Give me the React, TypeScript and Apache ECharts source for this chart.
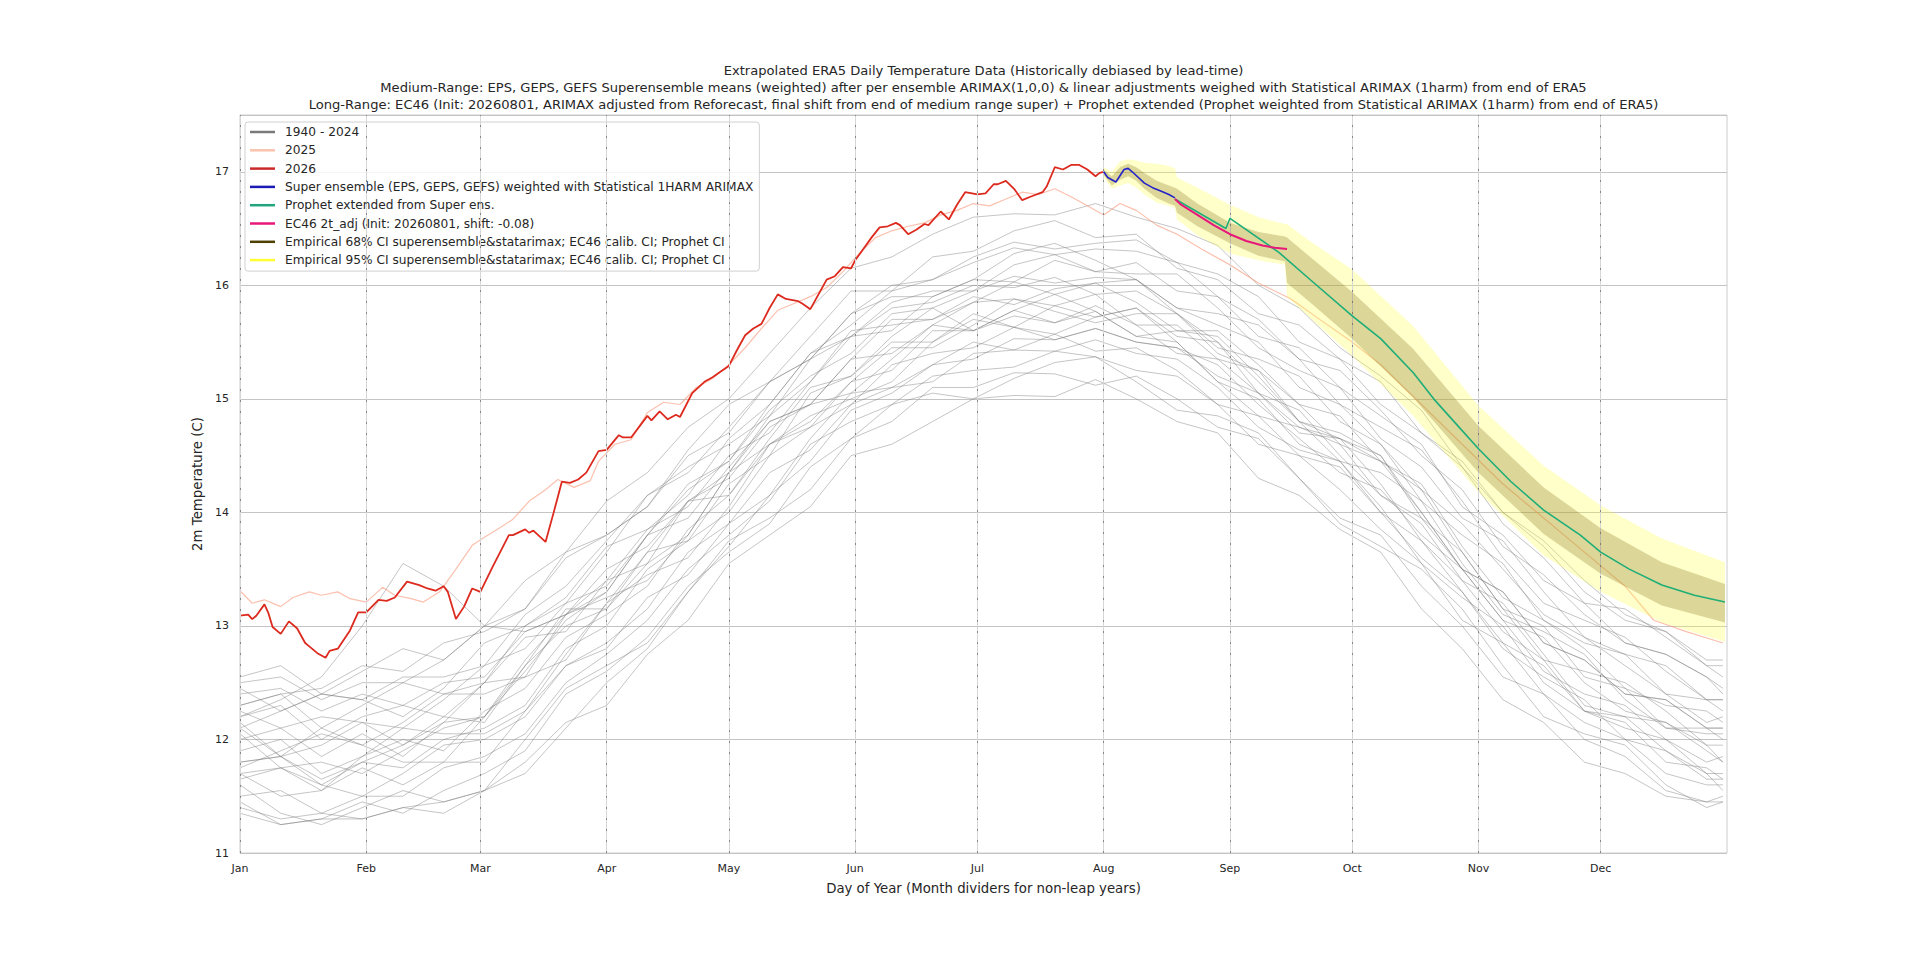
import React, { useEffect, useRef } from "react";
import * as echarts from "echarts";

const FONT = "'DejaVu Sans', 'Noto Sans', sans-serif";
const TEXT_COLOR = "#262626";

const TITLE_LINES = [
  "Extrapolated ERA5 Daily Temperature Data (Historically debiased by lead-time)",
  "Medium-Range: EPS, GEPS, GEFS Superensemble means (weighted) after per ensemble ARIMAX(1,0,0) & linear adjustments weighed with Statistical ARIMAX (1harm) from end of ERA5",
  "Long-Range: EC46 (Init: 20260801, ARIMAX adjusted from Reforecast, final shift from end of medium range super) + Prophet extended (Prophet weighted from Statistical ARIMAX (1harm) from end of ERA5)",
];

const MONTH_DAYS = [0, 31, 59, 90, 120, 151, 181, 212, 243, 273, 304, 334];
const MONTH_LABELS = ["Jan", "Feb", "Mar", "Apr", "May", "Jun", "Jul", "Aug", "Sep", "Oct", "Nov", "Dec"];

const Y_TICKS = [11, 12, 13, 14, 15, 16, 17];

// Historical years 1940-2024 (representative traces read from the bundle)
const HIST_DAYS = [0, 10, 20, 30, 40, 50, 60, 70, 80, 90, 100, 110, 120, 130, 140, 150, 160, 170, 180, 190, 200, 210, 220, 230, 240, 250, 260, 270, 280, 290, 300, 310, 320, 330, 340, 350, 360, 364];
const HIST_A = [12.55, 12.65, 12.40, 12.60, 12.80, 12.70, 13.00, 13.15, 13.65, 13.80, 14.05, 14.55, 14.95, 15.15, 15.55, 15.95, 15.95, 16.25, 16.30, 16.48, 16.57, 16.42, 16.45, 16.15, 16.05, 15.75, 15.65, 15.35, 14.95, 14.70, 14.40, 13.90, 13.60, 13.20, 13.15, 12.90, 12.65, 12.65];
const HIST_B = [12.30, 12.40, 12.10, 12.30, 12.50, 12.40, 12.50, 13.00, 13.25, 13.70, 13.85, 14.15, 14.65, 14.95, 15.40, 15.55, 15.85, 15.95, 15.95, 16.18, 16.27, 16.12, 16.10, 16.10, 15.80, 15.45, 15.25, 15.10, 14.65, 14.40, 13.95, 13.75, 13.30, 12.90, 12.75, 12.65, 12.35, 12.35];
const HIST_C = [12.10, 11.85, 12.10, 11.95, 12.15, 12.40, 12.40, 12.55, 13.10, 13.30, 13.80, 13.95, 14.40, 14.80, 14.95, 15.35, 15.70, 15.70, 15.90, 15.83, 15.97, 16.02, 15.85, 15.60, 15.60, 15.30, 14.95, 14.85, 14.45, 14.25, 13.70, 13.25, 13.05, 12.80, 12.45, 12.30, 12.25, 12.15];
const HIST_D = [11.90, 12.00, 11.70, 11.85, 12.00, 11.90, 12.25, 12.45, 12.90, 13.10, 13.35, 13.85, 14.15, 14.60, 14.80, 15.15, 15.25, 15.60, 15.60, 15.73, 15.67, 15.82, 15.65, 15.40, 15.35, 15.05, 14.90, 14.50, 14.15, 13.95, 13.50, 13.05, 12.90, 12.50, 12.25, 12.15, 11.95, 11.80];
const HIST_E = [11.70, 11.50, 11.55, 11.75, 11.60, 11.80, 11.80, 12.25, 12.65, 12.80, 13.25, 13.45, 13.90, 14.35, 14.55, 14.95, 15.10, 15.15, 15.40, 15.43, 15.57, 15.42, 15.45, 15.25, 14.95, 14.85, 14.50, 14.40, 14.00, 13.60, 13.30, 12.80, 12.55, 12.35, 12.00, 11.90, 11.70, 11.55];
const HIST_F = [11.45, 11.25, 11.30, 11.45, 11.35, 11.55, 11.70, 11.90, 12.40, 12.60, 12.90, 13.35, 13.65, 13.90, 14.40, 14.65, 14.80, 15.10, 15.10, 15.23, 15.22, 15.12, 15.20, 15.00, 14.75, 14.65, 14.30, 13.95, 13.80, 13.35, 13.00, 12.55, 12.40, 12.00, 11.85, 11.55, 11.45, 11.50];
const HIST_G = [11.70, 11.75, 11.80, 11.70, 11.90, 12.10, 12.20, 12.65, 13.00, 13.15, 13.65, 14.10, 14.35, 14.85, 15.15, 15.55, 15.60, 15.90, 16.05, 16.03, 16.22, 16.12, 16.20, 15.95, 15.90, 15.55, 15.45, 15.10, 14.85, 14.60, 14.05, 13.80, 13.40, 13.20, 12.85, 12.75, 12.55, 12.40];
const HIST_H = [12.40, 12.45, 12.25, 12.40, 12.30, 12.50, 12.55, 12.95, 13.10, 13.50, 13.70, 14.10, 14.30, 14.75, 14.95, 15.35, 15.40, 15.65, 15.60, 15.78, 15.67, 15.77, 15.55, 15.50, 15.15, 15.00, 14.60, 14.45, 14.00, 13.75, 13.30, 12.85, 12.65, 12.25, 12.10, 12.00, 11.70, 11.70];
const HIST_I = [12.20, 12.35, 12.55, 13.00, 13.55, 13.35, 13.00, 12.95, 13.10, 13.40, 13.55, 13.80, 14.35, 14.60, 14.75, 15.15, 15.45, 15.45, 15.65, 15.88, 15.82, 15.72, 15.80, 15.55, 15.50, 15.15, 14.80, 14.70, 14.50, 14.00, 13.50, 13.30, 12.85, 12.70, 12.40, 12.35, 12.10, 12.10];
const HIST_J = [11.35, 11.25, 11.30, 11.30, 11.40, 11.45, 11.55, 11.80, 12.15, 12.30, 12.75, 13.05, 13.55, 13.80, 14.05, 14.50, 14.60, 14.80, 15.00, 15.03, 15.02, 15.17, 15.00, 14.80, 14.70, 14.30, 14.15, 13.85, 13.65, 13.15, 12.80, 12.35, 12.15, 11.80, 11.70, 11.50, 11.45, 11.45];
const HIST_K = [12.50, 12.55, 12.35, 12.50, 12.50, 12.70, 13.00, 13.40, 13.65, 14.10, 14.35, 14.75, 15.00, 15.40, 15.80, 16.15, 16.25, 16.45, 16.60, 16.63, 16.62, 16.72, 16.60, 16.50, 16.35, 16.00, 15.80, 15.45, 15.20, 14.90, 14.40, 14.00, 13.75, 13.40, 13.10, 12.95, 12.70, 12.70];
const HIST_L = [12.00, 12.10, 11.85, 12.05, 11.85, 12.15, 12.50, 12.55, 12.70, 13.20, 13.65, 13.75, 14.25, 14.50, 15.05, 15.20, 15.50, 15.50, 15.75, 15.63, 15.82, 15.92, 15.65, 15.65, 15.35, 15.25, 14.80, 14.65, 14.50, 13.95, 13.65, 13.15, 13.00, 12.55, 12.45, 12.10, 12.05, 12.05];
const HIST_M = [11.80, 11.85, 11.60, 11.80, 11.75, 12.00, 12.10, 12.30, 12.80, 13.00, 13.50, 13.75, 14.00, 14.50, 14.75, 14.95, 15.30, 15.40, 15.45, 15.63, 15.52, 15.62, 15.50, 15.45, 15.30, 14.95, 14.65, 14.35, 14.20, 13.80, 13.50, 13.05, 12.60, 12.40, 12.30, 12.00, 11.80, 11.85];
const HIST_N = [12.45, 12.25, 12.40, 12.35, 12.55, 12.55, 12.65, 13.10, 13.35, 13.75, 14.15, 14.35, 14.75, 15.15, 15.35, 15.75, 16.00, 16.05, 16.20, 16.33, 16.27, 16.32, 16.30, 16.20, 15.90, 15.70, 15.35, 15.25, 14.90, 14.50, 14.20, 13.70, 13.45, 13.10, 12.85, 12.75, 12.55, 12.45];
const HIST_O = [11.50, 11.55, 11.35, 11.50, 11.50, 11.75, 11.85, 12.05, 12.50, 12.75, 13.05, 13.50, 13.80, 14.10, 14.60, 14.80, 14.95, 15.20, 15.25, 15.28, 15.42, 15.37, 15.25, 15.20, 14.95, 14.60, 14.50, 14.20, 13.85, 13.55, 13.05, 12.85, 12.40, 12.15, 12.00, 11.70, 11.60, 11.60];
const HIST_P = [12.25, 12.10, 12.20, 12.15, 12.10, 12.35, 12.65, 12.80, 13.20, 13.35, 13.80, 14.25, 14.45, 14.90, 15.20, 15.40, 15.75, 15.80, 15.95, 16.08, 16.02, 16.07, 16.05, 15.80, 15.65, 15.50, 15.10, 14.95, 14.60, 14.20, 13.90, 13.50, 13.10, 12.90, 12.65, 12.40, 12.35, 12.25];
const HIST_Q = [11.75, 11.90, 12.05, 11.95, 11.80, 11.80, 12.20, 12.70, 13.10, 13.25, 13.40, 13.80, 14.35, 14.80, 14.95, 15.05, 15.35, 15.65, 15.85, 15.88, 15.77, 15.67, 15.75, 15.75, 15.50, 15.05, 14.70, 14.65, 14.45, 14.20, 13.65, 13.15, 12.70, 12.60, 12.50, 12.25, 11.95, 11.95];
const HIST_R = [12.10, 12.25, 12.40, 12.35, 12.20, 12.45, 12.85, 13.00, 13.20, 13.65, 14.15, 14.40, 14.60, 14.85, 15.35, 15.75, 15.90, 15.90, 16.05, 16.28, 16.37, 16.22, 16.05, 15.80, 15.75, 15.65, 15.35, 14.95, 14.75, 14.55, 14.10, 13.60, 13.20, 13.05, 12.90, 12.60, 12.35, 12.35];
const HIST_S = [11.60, 11.35, 11.25, 11.40, 11.55, 11.45, 11.55, 12.00, 12.45, 12.65, 12.85, 13.30, 13.75, 13.95, 14.20, 14.65, 14.95, 15.05, 15.00, 15.18, 15.32, 15.37, 15.15, 14.90, 14.85, 14.70, 14.30, 13.90, 13.70, 13.50, 13.15, 12.65, 12.20, 12.05, 11.95, 11.60, 11.40, 11.45];
const HIST_T = [12.05, 11.75, 11.55, 11.85, 12.10, 12.05, 12.05, 12.25, 12.75, 13.20, 13.45, 13.60, 14.05, 14.60, 14.85, 15.00, 15.15, 15.50, 15.70, 15.63, 15.57, 15.72, 15.80, 15.50, 15.15, 14.85, 14.75, 14.65, 14.25, 13.75, 13.40, 13.20, 12.75, 12.30, 12.20, 12.15, 11.90, 11.80];
const HIST_U = [11.80, 11.85, 11.65, 11.80, 11.95, 12.15, 12.20, 12.60, 13.05, 13.30, 13.80, 14.20, 14.45, 14.95, 15.40, 15.65, 15.95, 16.05, 16.25, 16.38, 16.32, 16.37, 16.40, 16.20, 16.10, 15.90, 15.50, 15.35, 15.15, 14.70, 14.45, 14.00, 13.70, 13.30, 13.05, 12.95, 12.65, 12.55];
const HIST_V = [11.65, 11.75, 11.60, 11.50, 11.70, 11.95, 12.00, 12.20, 12.65, 12.85, 13.15, 13.65, 13.90, 14.15, 14.65, 15.05, 15.10, 15.30, 15.50, 15.43, 15.42, 15.52, 15.40, 15.35, 15.10, 14.75, 14.55, 14.45, 14.05, 13.55, 13.25, 13.00, 12.50, 12.25, 12.20, 11.90, 11.65, 11.65];
const HIST_W = [12.20, 12.30, 12.00, 12.20, 12.30, 12.20, 12.50, 12.90, 12.95, 13.40, 13.85, 14.05, 14.50, 14.70, 15.15, 15.60, 15.65, 15.70, 15.85, 16.03, 15.92, 16.02, 16.05, 15.75, 15.45, 15.35, 15.20, 14.80, 14.60, 14.10, 13.80, 13.55, 13.05, 12.85, 12.75, 12.40, 12.15, 12.20];
const HIST_X = [11.40, 11.30, 11.35, 11.30, 11.40, 11.35, 11.55, 11.70, 12.10, 12.50, 12.80, 13.30, 13.70, 14.15, 14.45, 14.90, 15.05, 15.30, 15.35, 15.53, 15.52, 15.62, 15.50, 15.45, 15.20, 15.05, 14.75, 14.60, 14.15, 13.90, 13.40, 12.95, 12.70, 12.25, 12.15, 11.80, 11.75, 11.65];
const HIST_Y = [12.30, 12.40, 12.45, 12.65, 12.60, 12.85, 12.95, 13.15, 13.60, 13.80, 14.05, 14.50, 14.70, 15.15, 15.35, 15.55, 15.80, 15.85, 16.00, 15.98, 16.07, 15.92, 15.95, 15.75, 15.40, 15.25, 14.95, 14.60, 14.45, 14.00, 13.50, 13.30, 12.85, 12.70, 12.40, 12.35, 12.10, 12.00];
const HIST_Z = [12.15, 11.85, 11.95, 12.15, 11.95, 12.20, 12.15, 12.65, 13.15, 13.15, 13.55, 14.10, 14.15, 14.65, 15.10, 15.20, 15.55, 15.80, 15.60, 15.78, 15.92, 15.77, 15.55, 15.60, 15.55, 15.20, 14.80, 14.45, 14.35, 14.10, 13.55, 13.10, 12.95, 12.75, 12.35, 12.10, 12.10, 12.10];
const HIST_LINES = [HIST_A, HIST_B, HIST_C, HIST_D, HIST_E, HIST_F, HIST_G, HIST_H, HIST_I, HIST_J, HIST_K, HIST_L, HIST_M, HIST_N, HIST_O, HIST_P, HIST_Q, HIST_R, HIST_S, HIST_T, HIST_U, HIST_V, HIST_W, HIST_X, HIST_Y, HIST_Z];

// 2025
const Y2025_DAYS = [0, 3, 6, 10, 13, 17, 20, 24, 27, 31, 35, 38, 42, 45, 49, 53, 57, 60, 64, 67, 71, 75, 78, 82, 86, 88, 92, 96, 100, 104, 108, 112, 116, 120, 124, 128, 132, 136, 140, 144, 148, 152, 156, 160, 164, 168, 172, 176, 180, 184, 188, 192, 196, 200, 204, 208, 212, 216, 220, 225, 230, 236, 243, 250, 258, 265, 273, 280, 290, 300, 310, 320, 330, 340, 347, 355, 364];
const Y2025_VALUES = [13.31, 13.20, 13.23, 13.17, 13.25, 13.30, 13.27, 13.30, 13.24, 13.21, 13.34, 13.27, 13.24, 13.21, 13.30, 13.50, 13.71, 13.78, 13.87, 13.94, 14.10, 14.20, 14.29, 14.22, 14.28, 14.45, 14.60, 14.64, 14.88, 14.97, 14.95, 15.10, 15.18, 15.30, 15.45, 15.62, 15.78, 15.84, 15.90, 15.98, 16.12, 16.28, 16.42, 16.48, 16.52, 16.55, 16.62, 16.66, 16.72, 16.70, 16.76, 16.82, 16.80, 16.85, 16.78, 16.70, 16.62, 16.72, 16.66, 16.53, 16.45, 16.32, 16.18, 16.02, 15.88, 15.70, 15.50, 15.30, 14.95, 14.60, 14.25, 13.95, 13.65, 13.35, 13.05, 12.95, 12.85];

// 2026 (ERA5 to end of July)
const Y2026_DAYS = [0, 2, 3, 4, 6, 7, 8, 10, 12, 14, 16, 17, 19, 21, 22, 24, 27, 29, 31, 34, 36, 38, 41, 44, 46, 48, 50, 51, 53, 55, 57, 59, 62, 66, 67, 70, 71, 72, 75, 77, 79, 81, 83, 85, 88, 90, 93, 94, 96, 100, 101, 103, 105, 107, 108, 111, 114, 116, 118, 120, 122, 124, 126, 128, 130, 132, 134, 137, 138, 140, 142, 144, 146, 148, 150, 151, 153, 155, 157, 159, 161, 162, 164, 166, 168, 169, 172, 174, 176, 178, 181, 183, 185, 186, 188, 190, 192, 194, 197, 198, 200, 202, 204, 206, 208, 210, 211, 212];
const Y2026_VALUES = [13.09, 13.10, 13.06, 13.09, 13.19, 13.11, 12.99, 12.93, 13.04, 12.98, 12.85, 12.82, 12.76, 12.72, 12.78, 12.80, 12.96, 13.12, 13.12, 13.23, 13.22, 13.25, 13.39, 13.36, 13.33, 13.31, 13.35, 13.30, 13.06, 13.17, 13.33, 13.30, 13.52, 13.80, 13.80, 13.85, 13.82, 13.84, 13.74, 14.00, 14.27, 14.26, 14.29, 14.35, 14.54, 14.55, 14.68, 14.66, 14.66, 14.85, 14.81, 14.89, 14.82, 14.86, 14.84, 15.05, 15.15, 15.19, 15.24, 15.29, 15.43, 15.56, 15.62, 15.66, 15.80, 15.92, 15.88, 15.86, 15.84, 15.79, 15.92, 16.05, 16.08, 16.16, 16.15, 16.22, 16.32, 16.42, 16.51, 16.52, 16.55, 16.53, 16.45, 16.49, 16.54, 16.53, 16.65, 16.58, 16.71, 16.82, 16.80, 16.81, 16.89, 16.89, 16.92, 16.85, 16.75, 16.78, 16.82, 16.87, 17.04, 17.02, 17.06, 17.06, 17.02, 16.96, 16.99, 17.00];

// Super ensemble (medium range)
const SUPER_DAYS = [212, 213, 215, 217, 218, 219, 222, 224, 226, 228, 229.5];
const SUPER_VALUES = [17.00, 16.95, 16.91, 17.02, 17.03, 17.00, 16.90, 16.86, 16.83, 16.80, 16.77];

// EC46 2t_adj
const EC46_DAYS = [229.5, 231, 235, 239, 243, 247, 251, 254, 257];
const EC46_VALUES = [16.76, 16.71, 16.62, 16.53, 16.45, 16.39, 16.35, 16.33, 16.32];

// Prophet extended
const PROPHET_DAYS = [229.5, 242, 243, 255, 263, 273, 280, 288, 293, 299, 304, 312, 320, 329, 334, 341, 349, 357, 364.5];
const PROPHET_VALUES = [16.76, 16.50, 16.59, 16.29, 16.04, 15.73, 15.53, 15.23, 15.00, 14.76, 14.56, 14.27, 14.02, 13.80, 13.65, 13.50, 13.36, 13.27, 13.21];

// Confidence bands
const BAND_DAYS = [212, 214, 216, 218, 220, 222, 225, 228, 229.5, 230, 235, 243, 250, 256.5, 257, 263, 273, 288, 304, 320, 334, 349, 364.5];
const CI68_LOW = [16.97, 16.88, 16.93, 16.96, 16.92, 16.85, 16.77, 16.72, 16.70, 16.64, 16.52, 16.37, 16.26, 16.21, 16.02, 15.84, 15.53, 15.01, 14.35, 13.81, 13.46, 13.18, 13.03];
const CI68_HIGH = [17.02, 16.96, 17.04, 17.07, 17.04, 16.99, 16.92, 16.88, 16.86, 16.85, 16.72, 16.55, 16.47, 16.43, 16.42, 16.24, 15.94, 15.44, 14.76, 14.22, 13.86, 13.56, 13.37];
const CI95_LOW = [16.95, 16.85, 16.88, 16.90, 16.86, 16.80, 16.73, 16.70, 16.68, 16.58, 16.44, 16.28, 16.22, 16.18, 15.90, 15.70, 15.38, 14.85, 14.18, 13.62, 13.30, 13.03, 12.86];
const CI95_HIGH = [17.04, 17.00, 17.09, 17.11, 17.10, 17.08, 17.07, 17.05, 17.03, 16.95, 16.86, 16.71, 16.60, 16.54, 16.54, 16.38, 16.14, 15.64, 14.94, 14.41, 14.06, 13.77, 13.56];

const NAME_HIST = "1940 - 2024";
const NAME_2025 = "2025";
const NAME_2026 = "2026";
const NAME_SUPER = "Super ensemble (EPS, GEPS, GEFS) weighted with Statistical 1HARM ARIMAX";
const NAME_PROPHET = "Prophet extended from Super ens.";
const NAME_EC46 = "EC46 2t_adj (Init: 20260801, shift: -0.08)";
const NAME_CI68 = "Empirical 68% CI superensemble&statarimax; EC46 calib. CI; Prophet CI";
const NAME_CI95 = "Empirical 95% CI superensemble&statarimax; EC46 calib. CI; Prophet CI";

const zip = (xs: number[], ys: number[]) => xs.map((x, i) => [x, ys[i]]);

function lineSeries(name: string, days: number[], vals: number[], color: string, width: number, z: number, extra: any = {}) {
  return {
    type: "line",
    name,
    data: zip(days, vals),
    showSymbol: false,
    symbol: "none",
    silent: true,
    z,
    lineStyle: { color, width },
    itemStyle: { color },
    ...extra,
  };
}

function bandSeries(name: string, lo: number[], hi: number[], fill: string, legendColor: string, z: number) {
  return {
    type: "custom",
    name,
    z,
    silent: true,
    itemStyle: { color: legendColor },
    data: BAND_DAYS.map((d, i) => [d, lo[i], hi[i]]),
    encode: { x: 0, y: [1, 2] },
    renderItem: (params: any, api: any) => {
      if (params.dataIndex !== 0) return null;
      const pts: number[][] = [];
      for (let i = 0; i < BAND_DAYS.length; i++) pts.push(api.coord([BAND_DAYS[i], hi[i]]));
      for (let i = BAND_DAYS.length - 1; i >= 0; i--) pts.push(api.coord([BAND_DAYS[i], lo[i]]));
      return { type: "polygon", shape: { points: pts }, style: { fill, stroke: "none" } };
    },
  };
}

function buildOption() {
  const series: any[] = [];
  HIST_LINES.forEach((vals, idx) => {
    const extra: any = {};
    if (idx === 0) {
      extra.markLine = {
        silent: true,
        symbol: "none",
        label: { show: false },
        lineStyle: { color: "#d6d6d6", width: 1, type: "solid" },
        data: MONTH_DAYS.map((d) => ({ xAxis: d })),
      };
    }
    series.push(lineSeries(NAME_HIST, HIST_DAYS, vals, "rgba(120,120,120,0.48)", 0.9, 1, extra));
  });
  series.push(lineSeries(NAME_2025, Y2025_DAYS, Y2025_VALUES, "rgba(248,150,120,0.6)", 1.2, 2));
  series.push(lineSeries(NAME_2026, Y2026_DAYS, Y2026_VALUES, "#dd2a1e", 1.8, 3));
  series.push(bandSeries(NAME_CI95, CI95_LOW, CI95_HIGH, "rgba(255,255,60,0.28)", "#ffff33", 4));
  series.push(bandSeries(NAME_CI68, CI68_LOW, CI68_HIGH, "rgba(120,95,15,0.26)", "#4d4000", 5));
  series.push(lineSeries(NAME_SUPER, SUPER_DAYS, SUPER_VALUES, "#2424c8", 1.6, 6));
  series.push(lineSeries(NAME_PROPHET, PROPHET_DAYS, PROPHET_VALUES, "#1fae78", 1.6, 7));
  series.push(lineSeries(NAME_EC46, EC46_DAYS, EC46_VALUES, "#e8187a", 2, 8));
  // dark dashed month dividers drawn above the bands
  series.push({
    type: "line",
    name: "",
    data: [],
    silent: true,
    z: 9,
    markLine: {
      silent: true,
      symbol: "none",
      label: { show: false },
      lineStyle: { color: "rgba(70,70,70,0.55)", width: 1, type: [2, 9] },
      data: MONTH_DAYS.map((d) => ({ xAxis: d })),
    },
  });

  const legendItem = (name: string, color: string) => ({
    name,
    itemStyle: { color },
    lineStyle: { color, width: 2.5 },
  });

  return {
    animation: false,
    backgroundColor: "#ffffff",
    textStyle: { fontFamily: FONT, color: TEXT_COLOR },
    grid: {
      left: 240,
      right: 193,
      top: 115,
      bottom: 107,
      show: true,
      borderColor: "#cccccc",
      borderWidth: 1,
      containLabel: false,
    },
    graphic: TITLE_LINES.map((t, i) => ({
      type: "text",
      x: 983.5,
      y: 70 + i * 17,
      silent: true,
      style: {
        text: t,
        textAlign: "center",
        textVerticalAlign: "middle",
        align: "center",
        verticalAlign: "middle",
        fontFamily: FONT,
        fontSize: 13.1,
        fill: TEXT_COLOR,
      },
    })),
    legend: {
      orient: "vertical",
      left: 245,
      top: 122,
      icon: "rect",
      itemWidth: 25,
      itemHeight: 2.5,
      itemGap: 2.3,
      selectedMode: false,
      padding: [2, 6, 3, 5],
      backgroundColor: "rgba(255,255,255,0.85)",
      borderColor: "#d0d0d0",
      borderWidth: 1,
      borderRadius: 3,
      textStyle: { fontFamily: FONT, fontSize: 12.2, color: TEXT_COLOR, lineHeight: 16, padding: [0, 0, 0, 5] },
      data: [
        legendItem(NAME_HIST, "#7a7a7a"),
        legendItem(NAME_2025, "#f9c3ad"),
        legendItem(NAME_2026, "#cc2a2a"),
        legendItem(NAME_SUPER, "#1a1ab4"),
        legendItem(NAME_PROPHET, "#22a57e"),
        legendItem(NAME_EC46, "#e8187a"),
        legendItem(NAME_CI68, "#4d4000"),
        legendItem(NAME_CI95, "#ffff33"),
      ],
    },
    xAxis: {
      type: "value",
      min: 0,
      max: 365,
      name: "Day of Year (Month dividers for non-leap years)",
      nameLocation: "middle",
      nameGap: 28.5,
      nameTextStyle: { fontFamily: FONT, fontSize: 13.3, color: TEXT_COLOR },
      axisLine: { show: false },
      axisTick: { show: false },
      splitLine: { show: false },
      axisLabel: {
        customValues: MONTH_DAYS,
        margin: 10,
        fontFamily: FONT,
        fontSize: 11,
        color: TEXT_COLOR,
        formatter: (v: number) => {
          const i = MONTH_DAYS.indexOf(Math.round(v));
          return i >= 0 ? MONTH_LABELS[i] : "";
        },
      },
    },
    yAxis: {
      type: "value",
      min: 11,
      max: 17.5,
      interval: 1,
      name: "2m Temperature (C)",
      nameLocation: "middle",
      nameGap: 22,
      nameTextStyle: { fontFamily: FONT, fontSize: 13.3, color: TEXT_COLOR },
      axisLine: { show: false },
      axisTick: { show: false },
      splitLine: { show: true, lineStyle: { color: "#c4c4c4", width: 1 } },
      axisLabel: {
        customValues: Y_TICKS,
        margin: 11,
        fontFamily: FONT,
        fontSize: 11,
        color: TEXT_COLOR,
      },
    },
    series,
  };
}

export default function App() {
  const ref = useRef<HTMLDivElement>(null);
  useEffect(() => {
    if (!ref.current) return;
    const chart = echarts.init(ref.current, undefined, { renderer: "svg" });
    chart.setOption(buildOption() as any);
    return () => {
      chart.dispose();
    };
  }, []);
  return (
    <div
      ref={ref}
      style={{ position: "fixed", left: 0, top: 0, width: 1920, height: 960, background: "#ffffff" }}
    />
  );
}
